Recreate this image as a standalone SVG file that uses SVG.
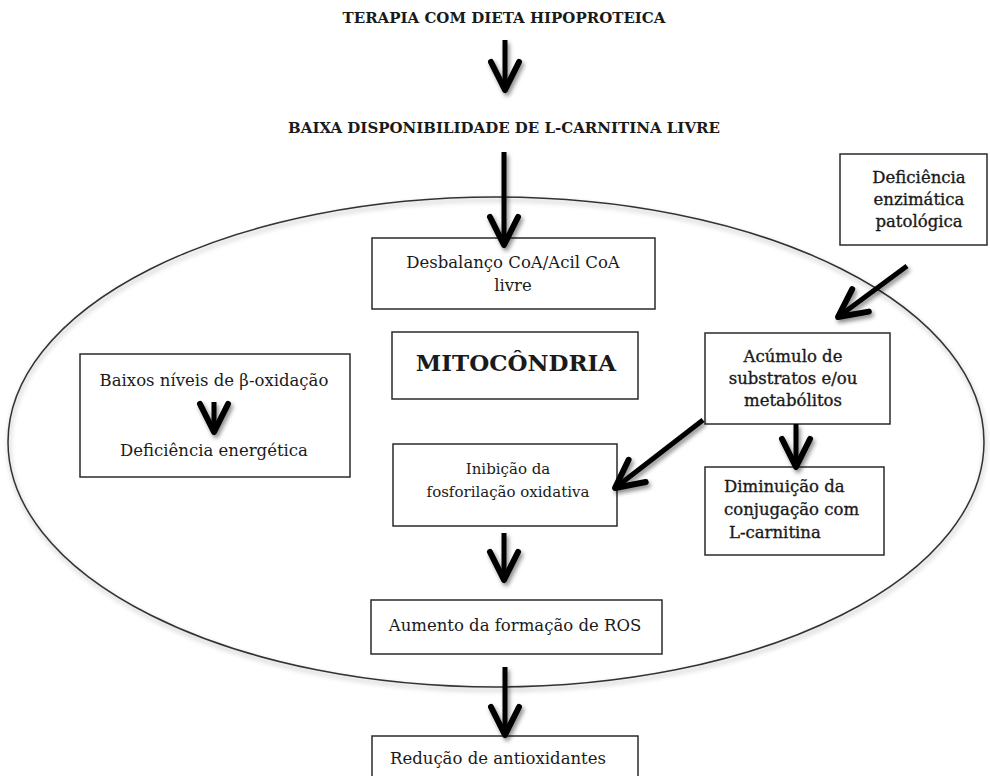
<svg xmlns="http://www.w3.org/2000/svg" width="990" height="776" viewBox="0 0 990 776">
<style>
text{font-family:"DejaVu Serif","Liberation Serif",serif;fill:#1a1a1a}
.t{font-weight:bold;font-size:15px;text-anchor:middle}
.n{font-size:16.5px;text-anchor:middle}
.s{font-size:16.5px;stroke:#1a1a1a;stroke-width:0.35}
.box{fill:#fff;stroke:#2a2a2a;stroke-width:1.5}
.arr{fill:none;stroke:#000;stroke-width:5;marker-end:url(#chev);filter:url(#sh)}
</style>
<defs>
<filter id="sh" filterUnits="userSpaceOnUse" x="0" y="0" width="990" height="776">
<feDropShadow dx="2" dy="3" stdDeviation="2" flood-color="#000" flood-opacity="0.45"/>
</filter>
<filter id="esh" x="-5%" y="-5%" width="110%" height="115%">
<feDropShadow dx="1" dy="3" stdDeviation="2.5" flood-color="#000" flood-opacity="0.35"/>
</filter>
<marker id="chev" markerUnits="userSpaceOnUse" orient="auto" overflow="visible" markerWidth="1" markerHeight="1" refX="0" refY="0">
<path d="M-28,-14 L0,0 L-28,14" fill="none" stroke="#000" stroke-width="6" stroke-linecap="round" stroke-linejoin="round"/>
</marker>
</defs>
<rect width="990" height="776" fill="#fff"/>
<g id="mitocondria-ellipse">
<ellipse cx="496" cy="442" rx="488" ry="245" fill="none" stroke="#333" stroke-width="1.5" filter="url(#esh)"/>
</g>
<g id="terapia"><text class="t" x="504" y="23">TERAPIA COM DIETA HIPOPROTEICA</text></g>
<g id="baixa"><text class="t" x="504" y="133">BAIXA DISPONIBILIDADE DE L-CARNITINA LIVRE</text></g>
<g id="desbalanco">
<rect class="box" x="372" y="238" width="283" height="71"/>
<text class="n" x="513" y="268">Desbalanço CoA/Acil CoA</text>
<text class="n" x="513" y="291">livre</text>
</g>
<g id="deficiencia-enzimatica">
<rect class="box" x="840" y="154" width="147" height="91"/>
<text class="n s" x="919" y="183">Deficiência</text>
<text class="n s" x="919" y="205">enzimática</text>
<text class="n s" x="919" y="227">patológica</text>
</g>
<g id="mitocondria">
<rect class="box" x="392" y="332" width="246" height="67"/>
<text x="516" y="371" style="font-weight:bold;font-size:23px;text-anchor:middle">MITOCÔNDRIA</text>
</g>
<g id="beta-oxidacao">
<rect class="box" x="80" y="354" width="270" height="123"/>
<text class="n" x="214" y="386">Baixos níveis de β-oxidação</text>
<text class="n" x="214" y="456">Deficiência energética</text>
</g>
<g id="acumulo">
<rect class="box" x="705" y="333" width="185" height="91"/>
<text class="n s" x="793" y="362">Acúmulo de</text>
<text class="n s" x="793" y="384">substratos e/ou</text>
<text class="n s" x="793" y="406">metabólitos</text>
</g>
<g id="inibicao">
<rect class="box" x="393" y="444" width="224" height="82"/>
<text class="n" x="508" y="474" style="font-size:15px">Inibição da</text>
<text class="n" x="508" y="497" style="font-size:15px">fosforilação oxidativa</text>
</g>
<g id="diminuicao">
<rect class="box" x="705" y="467" width="179" height="88"/>
<text class="s" x="724" y="492">Diminuição da</text>
<text class="s" x="724" y="515">conjugação com</text>
<text class="s" x="729" y="538">L-carnitina</text>
</g>
<g id="ros">
<rect class="box" x="371" y="600" width="291" height="54"/>
<text class="n" x="515" y="631">Aumento da formação de ROS</text>
</g>
<g id="reducao">
<rect class="box" x="372" y="736" width="266" height="50"/>
<text class="n" x="498" y="764">Redução de antioxidantes</text>
</g>
<g id="connectors">
<path class="arr" d="M505,40 V90"/>
<path class="arr" d="M504,152 V245"/>
<path class="arr" d="M907,266 L838,317"/>
<path class="arr" d="M214,402 V432"/>
<path class="arr" d="M703,420 L615,488"/>
<path class="arr" d="M796,424 V467"/>
<path class="arr" d="M504,533 V580"/>
<path class="arr" d="M505,667 V735"/>
</g>
</svg>
